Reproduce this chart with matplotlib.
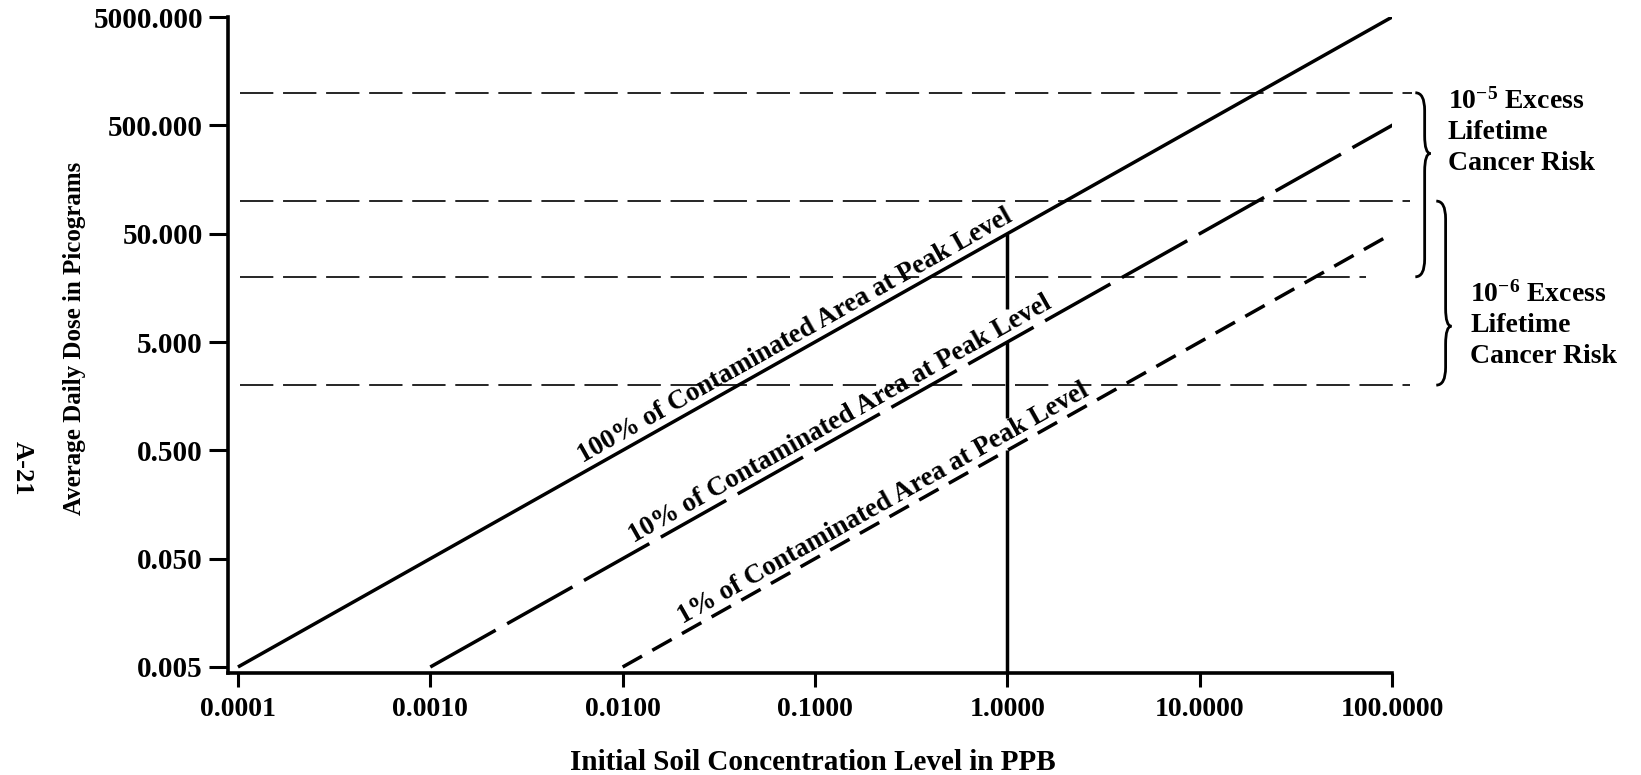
import numpy as np
import matplotlib
matplotlib.use('Agg')
import matplotlib.pyplot as plt
from matplotlib.path import Path
from matplotlib.patches import PathPatch
from matplotlib.ticker import NullLocator

plt.rcParams['font.family'] = ['Liberation Serif', 'DejaVu Serif']
plt.rcParams['font.weight'] = 'bold'
plt.rcParams['axes.labelweight'] = 'bold'
plt.rcParams['mathtext.fontset'] = 'custom'
plt.rcParams['mathtext.rm'] = 'Liberation Serif:bold'
plt.rcParams['mathtext.it'] = 'Liberation Serif:bold'
plt.rcParams['mathtext.bf'] = 'Liberation Serif:bold'
plt.rcParams['lines.scale_dashes'] = False

# data
series_labels = ['100% of Contaminated Area at Peak Level',
                 '10% of Contaminated Area at Peak Level',
                 '1% of Contaminated Area at Peak Level']
series_conc = [[0.0001, 100], [0.001, 115], [0.01, 100]]
series_dose = [[0.005, 5000], [0.005, 575], [0.005, 50]]

risk_levels = [1000, 100, 20, 2]
risk_bands = [(1000, 20), (100, 2)]
risk_labels = ['10$^{-5}$ Excess\nLifetime\nCancer Risk',
               '10$^{-6}$ Excess\nLifetime\nCancer Risk']

peak_conc = 1.0
peak_top = [50, 5, 0.5]
peak_bottom = [10, 1, None]   # None -> down to the axis

x_ticks = [0.0001, 0.001, 0.01, 0.1, 1, 10, 100]
x_tick_labels = ['0.0001', '0.0010', '0.0100', '0.1000', '1.0000', '10.0000', '100.0000']
y_ticks = [0.005, 0.05, 0.5, 5, 50, 500, 5000]
y_tick_labels = ['0.005', '0.050', '0.500', '5.000', '50.000', '500.000', '5000.000']

# styling
line_styles = ['-', (0, (54, 9.5)), (0, (16, 8.5))]
label_at = [0.086, 0.148, 0.246]
label_off = 6
hline_end = [1.017, 1.015, 0.978, 1.015]

fig = plt.figure(figsize=(16.41, 7.75), dpi=100)
ax = fig.add_axes([0.1389, 0.1316, 0.7094, 0.8464])
ax.set_xscale('log')
ax.set_yscale('log')
ax.set_xlim(8.87e-5, 100)
ax.set_ylim(0.0044, 5000)

for side in ['top', 'right']:
    ax.spines[side].set_visible(False)
for side in ['left', 'bottom']:
    ax.spines[side].set_linewidth(2.6)

ax.set_xticks(x_ticks)
ax.set_xticklabels(x_tick_labels)
ax.set_yticks(y_ticks)
ax.set_yticklabels(y_tick_labels)
ax.xaxis.set_minor_locator(NullLocator())
ax.yaxis.set_minor_locator(NullLocator())
ax.tick_params(axis='y', length=14, width=2.2, pad=4, labelsize=21)
ax.tick_params(axis='x', length=10, width=2.2, pad=7, labelsize=20)

# risk level dashed lines
for lev, xe in zip(risk_levels, hline_end):
    ax.axhline(lev, xmin=0.01, xmax=xe, color='black', lw=1.2,
               dashes=(24, 7), clip_on=False)

# concentration lines
for xs, ys, ls in zip(series_conc, series_dose, line_styles):
    ax.plot(xs, ys, color='black', lw=2.5, linestyle=ls, solid_capstyle='butt')

# vertical line at 1 ppb, broken where the labels cross it
ymin = ax.get_ylim()[0]
for top, bot in zip(peak_top, peak_bottom):
    ax.plot([peak_conc, peak_conc], [bot if bot else ymin, top],
            color='black', lw=2.5, solid_capstyle='butt')

# labels along the lines
p1 = ax.transData.transform((series_conc[0][0], series_dose[0][0]))
p2 = ax.transData.transform((series_conc[0][1], series_dose[0][1]))
ang = np.degrees(np.arctan2(p2[1] - p1[1], p2[0] - p1[0]))
rad = np.radians(ang)
for xs, ys, lab, lx in zip(series_conc, series_dose, series_labels, label_at):
    ly = 10 ** np.interp(np.log10(lx), np.log10(xs), np.log10(ys))
    ax.annotate(lab, (lx, ly), xytext=(-np.sin(rad) * label_off, np.cos(rad) * label_off),
                textcoords='offset points', rotation=ang, rotation_mode='anchor',
                ha='center', va='baseline', fontsize=19.5)


def brace(y_top, y_bot, xs, cusp_frac, hook=0.008, tip=0.005, r=0.027):
    lo, hi = np.log10(ax.get_ylim())
    yt = (np.log10(y_top) - lo) / (hi - lo)
    yb = (np.log10(y_bot) - lo) / (hi - lo)
    ym = yt - cusp_frac * (yt - yb)
    verts = [(xs - hook, yt), (xs, yt), (xs, yt - r),
             (xs, ym + r), (xs, ym), (xs + tip, ym),
             (xs, ym), (xs, ym - r),
             (xs, yb + r), (xs, yb), (xs - hook, yb)]
    codes = [Path.MOVETO, Path.CURVE3, Path.CURVE3, Path.LINETO,
             Path.CURVE3, Path.CURVE3, Path.CURVE3, Path.CURVE3,
             Path.LINETO, Path.CURVE3, Path.CURVE3]
    ax.add_patch(PathPatch(Path(verts, codes), fill=False, lw=2.0,
                           transform=ax.transAxes, clip_on=False))


brace(risk_bands[0][0], risk_bands[0][1], 1.028, 0.33)
brace(risk_bands[1][0], risk_bands[1][1], 1.046, 0.68)

# va='baseline' on multi-line text aligns the last line
ax.text(1.048, 0.767, risk_labels[0], transform=ax.transAxes, ha='left', va='baseline',
        fontsize=20, linespacing=1.31)
ax.text(1.067, 0.4726, risk_labels[1], transform=ax.transAxes, ha='left', va='baseline',
        fontsize=20, linespacing=1.31)

ax.set_xlabel('Initial Soil Concentration Level in PPB', fontsize=21)
ax.xaxis.set_label_coords(0.502, -0.136)
ax.xaxis.label.set_va('center')
ax.set_ylabel('Average Daily Dose in Picograms', fontsize=18)
ax.yaxis.set_label_coords(-0.132, 0.51)
ax.yaxis.label.set_va('center')

fig.text(22 / 1641, 1 - 468 / 775, 'A-21', rotation=270, ha='center', va='center',
         fontsize=19)

fig.savefig('out.png', dpi=100)
